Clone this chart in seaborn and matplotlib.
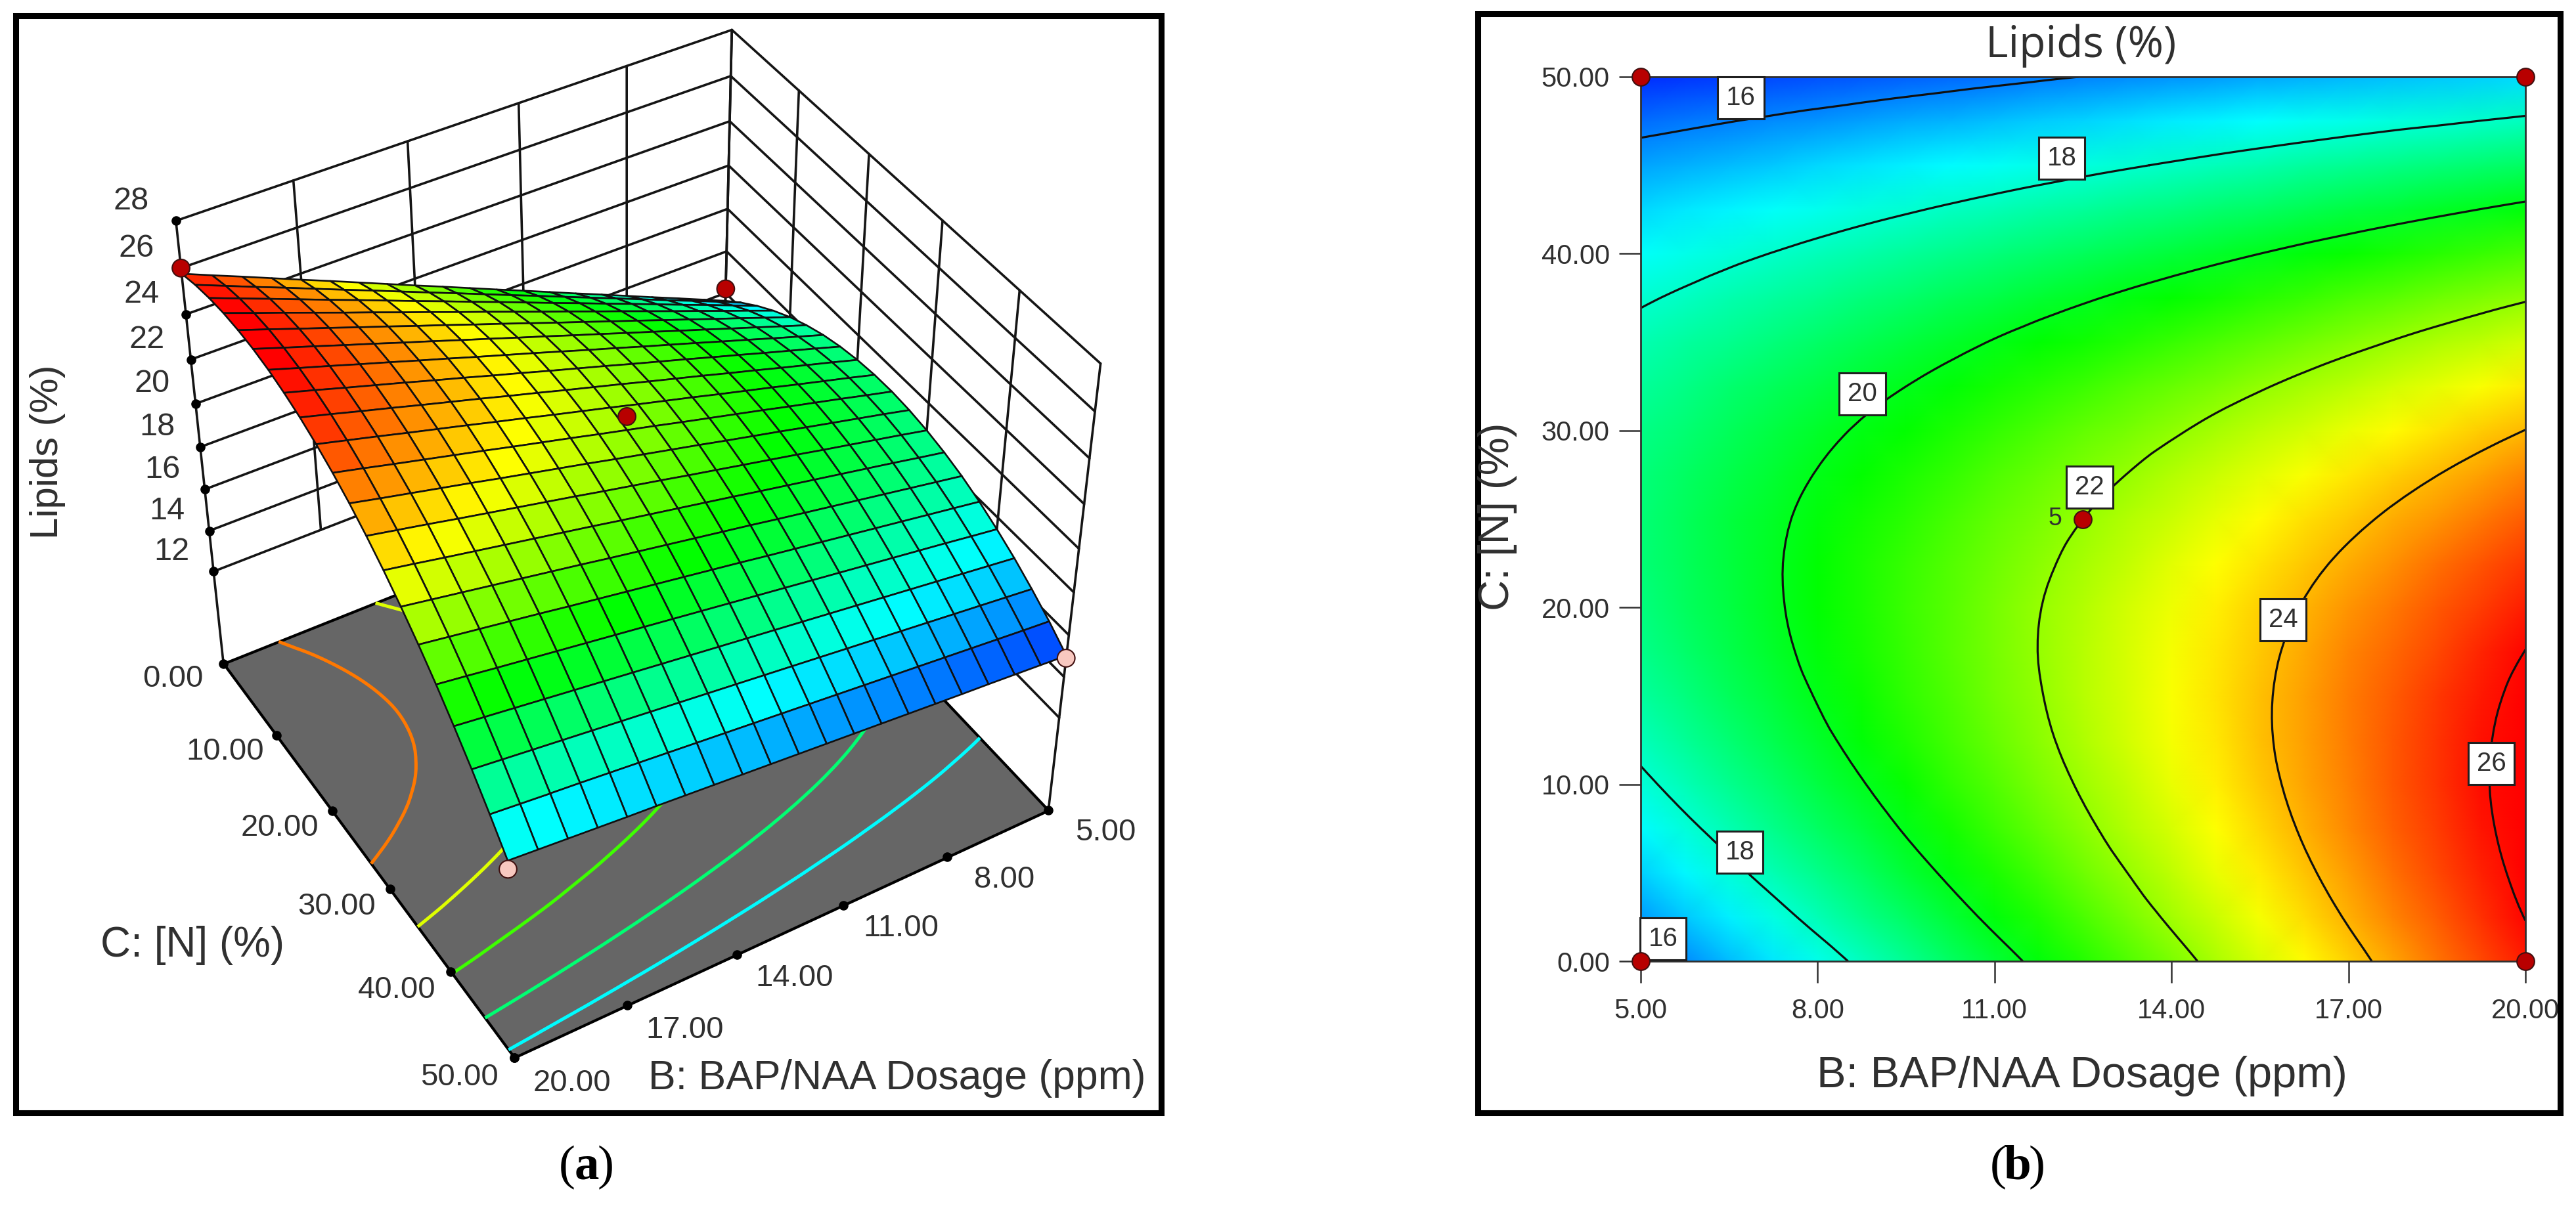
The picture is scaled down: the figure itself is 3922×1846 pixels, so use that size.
import numpy as np
import matplotlib
matplotlib.use("Agg")
import matplotlib.pyplot as plt
from matplotlib.patches import Rectangle
from matplotlib.tri import Triangulation, UniformTriRefiner, CubicTriInterpolator
from mpl_toolkits.mplot3d.art3d import Poly3DCollection
from mpl_toolkits.mplot3d import proj3d
import seaborn as sns

# ---------- data ----------
B_grid = [5.00, 5.75, 6.50, 7.25, 8.00, 8.75, 9.50, 10.25, 11.00, 11.75, 12.50,
          13.25, 14.00, 14.75, 15.50, 16.25, 17.00, 17.75, 18.50, 19.25, 20.00]
C_grid = [0.0, 2.5, 5.0, 7.5, 10.0, 12.5, 15.0, 17.5, 20.0, 22.5, 25.0,
          27.5, 30.0, 32.5, 35.0, 37.5, 40.0, 42.5, 45.0, 47.5, 50.0]
Lipids = [
 [15.62,16.13,16.64,17.14,17.65,18.16,18.66,19.17,19.68,20.18,20.69,21.20,21.70,22.21,22.72,23.23,23.73,24.24,24.75,25.25,25.76],
 [16.28,16.77,17.26,17.74,18.23,18.72,19.20,19.69,20.18,20.66,21.15,21.64,22.12,22.61,23.10,23.58,24.07,24.56,25.04,25.53,26.02],
 [16.87,17.34,17.81,18.27,18.74,19.21,19.67,20.14,20.60,21.07,21.54,22.00,22.47,22.93,23.40,23.87,24.33,24.80,25.27,25.73,26.20],
 [17.39,17.84,18.28,18.73,19.17,19.62,20.07,20.51,20.96,21.40,21.85,22.30,22.74,23.19,23.63,24.08,24.52,24.97,25.42,25.86,26.31],
 [17.84,18.26,18.69,19.11,19.54,19.96,20.39,20.81,21.24,21.66,22.09,22.52,22.94,23.37,23.79,24.22,24.64,25.07,25.49,25.92,26.34],
 [18.21,18.61,19.02,19.42,19.83,20.23,20.64,21.04,21.45,21.85,22.26,22.66,23.07,23.47,23.88,24.28,24.69,25.09,25.50,25.90,26.31],
 [18.51,18.89,19.27,19.66,20.04,20.43,20.81,21.19,21.58,21.96,22.35,22.74,23.12,23.50,23.89,24.27,24.66,25.04,25.43,25.81,26.20],
 [18.73,19.10,19.46,19.82,20.19,20.55,20.92,21.28,21.64,22.01,22.37,22.73,23.10,23.46,23.83,24.19,24.56,24.92,25.28,25.65,26.01],
 [18.88,19.23,19.57,19.91,20.26,20.60,20.95,21.29,21.63,21.98,22.32,22.66,23.01,23.35,23.70,24.04,24.38,24.73,25.07,25.42,25.76],
 [18.96,19.29,19.61,19.93,20.26,20.58,20.90,21.23,21.55,21.87,22.20,22.52,22.84,23.17,23.49,23.82,24.14,24.46,24.79,25.11,25.43],
 [18.97,19.27,19.58,19.88,20.18,20.49,20.79,21.09,21.39,21.70,22.00,22.30,22.61,22.91,23.21,23.52,23.82,24.12,24.42,24.73,25.03],
 [18.90,19.19,19.47,19.75,20.03,20.32,20.60,20.88,21.17,21.45,21.73,22.01,22.30,22.58,22.86,23.14,23.43,23.71,23.99,24.27,24.56],
 [18.76,19.03,19.29,19.55,19.81,20.08,20.34,20.60,20.86,21.12,21.39,21.65,21.91,22.18,22.44,22.70,22.96,23.22,23.49,23.75,24.01],
 [18.55,18.79,19.04,19.28,19.52,19.76,20.00,20.24,20.49,20.73,20.97,21.21,21.45,21.70,21.94,22.18,22.42,22.66,22.90,23.15,23.39],
 [18.27,18.49,18.71,18.93,19.15,19.37,19.59,19.81,20.04,20.26,20.48,20.70,20.92,21.14,21.37,21.59,21.81,22.03,22.25,22.47,22.69],
 [17.91,18.11,18.31,18.51,18.71,18.91,19.11,19.31,19.51,19.72,19.92,20.12,20.32,20.52,20.72,20.92,21.13,21.33,21.53,21.73,21.93],
 [17.47,17.65,17.84,18.02,18.20,18.38,18.56,18.74,18.92,19.10,19.28,19.46,19.64,19.82,20.00,20.18,20.36,20.54,20.72,20.91,21.09],
 [16.97,17.13,17.29,17.45,17.61,17.77,17.93,18.09,18.25,18.41,18.57,18.73,18.89,19.05,19.21,19.37,19.53,19.69,19.85,20.01,20.17],
 [16.39,16.53,16.67,16.81,16.95,17.09,17.23,17.37,17.51,17.65,17.79,17.93,18.07,18.21,18.35,18.49,18.63,18.77,18.91,19.05,19.19],
 [15.75,15.86,15.98,16.10,16.22,16.34,16.46,16.58,16.70,16.82,16.94,17.06,17.18,17.30,17.42,17.54,17.66,17.78,17.89,18.01,18.13],
 [15.02,15.12,15.22,15.32,15.41,15.51,15.61,15.71,15.81,15.91,16.01,16.11,16.21,16.31,16.41,16.51,16.60,16.70,16.80,16.90,17.00],
]
B_ticks = [5, 8, 11, 14, 17, 20]
C_ticks = [0, 10, 20, 30, 40, 50]
Z_ticks = [12, 14, 16, 18, 20, 22, 24, 26, 28]
Z_floor = 7.3
Levels = [16, 18, 20, 22, 24, 26]
Floor_levels = [17.4, 19.0, 21.0, 22.8, 24.7]

point_B = [20, 5, 12.5, 20, 5]
point_C = [0, 0, 25, 50, 50]
point_Z = [26.0, 16.2, 22.6, 16.6, 14.9]
point_color = ["#b80000", "#b80000", "#b80000", "#f8c8c0", "#f8c8c0"]

label_vals = ["16", "18", "20", "22", "24", "26", "18", "16"]
label_B = [6.70, 12.14, 8.76, 12.61, 15.89, 19.42, 6.68, 5.38]
label_C = [48.8, 45.4, 32.07, 26.8, 19.3, 11.17, 6.16, 1.26]

# ---------- style ----------
sns.set_theme(style="white")
plt.rcParams["font.family"] = ["Liberation Sans", "DejaVu Sans"]
W, H = 3923, 1846
fig = plt.figure(figsize=(W / 100, H / 100), dpi=100, facecolor="white")
cmap = sns.blend_palette(["#0000ff", "#00ffff", "#00ff00", "#ffff00", "#ff0000"], n_colors=256, as_cmap=True)
VMIN, VMAX = 14.5, 26.1
TXT = "#303030"

def fx(x): return x / W
def fy(y): return 1 - y / H

X, Y = np.meshgrid(B_grid, C_grid)
Z = np.array(Lipids)

# Contour drawing only: the library's refiner rounds the contour paths between the grid nodes
tri = Triangulation(X.ravel(), Y.ravel())
tri_fine, z_fine = UniformTriRefiner(tri).refine_field(Z.ravel(), CubicTriInterpolator(tri, Z.ravel(), kind="geom"), subdiv=2)

# frames
for (x0, y0, x1, y1) in [(24, 24, 1768, 1695), (2250, 21, 3898, 1695)]:
    fig.add_artist(Rectangle((fx(x0), fy(y1)), (x1 - x0) / W, (y1 - y0) / H, transform=fig.transFigure,
                             fill=False, ec="black", lw=6.5))

# ---------- panel (a) ----------
side = 1594
ax3 = fig.add_axes([fx(136), fy(25 + side), side / W, side / H], projection="3d", computed_zorder=False)
ax3.patch.set_alpha(0)
ax3.set_proj_type("persp", focal_length=0.62)
ax3.view_init(elev=42, azim=59)
ax3.set_box_aspect((1, 1, 0.94))
ax3.set_xlim(5, 20); ax3.set_ylim(0, 50); ax3.set_zlim(Z_floor, 28)
ax3.set_axis_off()
wall = dict(color="#151515", lw=2.6, zorder=1)
for z in Z_ticks:
    ax3.plot([20, 5], [0, 0], [z, z], **wall)
    ax3.plot([5, 5], [0, 50], [z, z], **wall)
for b in B_ticks:
    ax3.plot([b, b], [0, 0], [Z_floor if b in (20, 5) else 12, 28], **wall)
for c in C_ticks:
    ax3.plot([5, 5], [c, c], [Z_floor if c in (0, 50) else 12, 28], **wall)
floor_xyz = [[(20, 0, Z_floor), (20, 50, Z_floor), (5, 50, Z_floor), (5, 0, Z_floor)]]
floor = Poly3DCollection(floor_xyz, facecolor="#666666", edgecolor="black", linewidth=3, zorder=2)
ax3.add_collection3d(floor)
ax3.tricontour(tri_fine, z_fine, levels=Floor_levels, zdir="z", offset=Z_floor, cmap=cmap, vmin=VMIN, vmax=VMAX,
               linewidths=3.6, zorder=3)
ax3.plot_surface(X, Y, Z, rstride=1, cstride=1, cmap=cmap, vmin=VMIN, vmax=VMAX, shade=False,
                 edgecolor="#101010", linewidth=1.9, antialiased=True, zorder=4)
ax3.scatter(point_B, point_C, point_Z, s=370, c=point_color, edgecolors="#401010", linewidths=1.5,
            depthshade=False, zorder=6)
ax3.scatter([20] * len(Z_ticks), [0] * len(Z_ticks), Z_ticks, s=90, c="black", depthshade=False, zorder=5)
ax3.scatter([20] * len(C_ticks), C_ticks, [Z_floor] * len(C_ticks), s=90, c="black", depthshade=False, zorder=5)
ax3.scatter(B_ticks, [50] * len(B_ticks), [Z_floor] * len(B_ticks), s=90, c="black", depthshade=False, zorder=5)

M3 = ax3.get_proj()
def label3d(b, c, z, s, size):
    x2, y2, _ = proj3d.proj_transform(b, c, z, M3)
    ax3.text2D(x2, y2, s, transform=ax3.transData, fontsize=size, color=TXT, ha="center", va="center", zorder=7)

for z in Z_ticks:
    label3d(20.57, -4.0, z, str(z), 35)
for c in C_ticks:
    label3d(21.35, c - 0.5, Z_floor, f"{c:.2f}", 34)
for b in B_ticks:
    label3d(b - 0.75, 54.37, Z_floor, f"{b:.2f}", 34)
fig.text(fx(73), fy(688), "Lipids (%)", fontsize=43, rotation=90, ha="center", va="center", color=TXT)
fig.text(fx(293), fy(1440), "C: [N] (%)", fontsize=46, ha="center", va="center", color=TXT)
fig.text(fx(1366), fy(1642), "B: BAP/NAA Dosage (ppm)", fontsize=45, ha="center", va="center", color=TXT)

# ---------- panel (b) ----------
ax = fig.add_axes([fx(2498), fy(1464), 1347 / W, 1347 / H])
ax.pcolormesh(X, Y, Z, cmap=cmap, vmin=VMIN, vmax=VMAX, shading="gouraud", zorder=1)
ax.tricontour(tri_fine, z_fine, levels=Levels, colors="#101010", linewidths=2.3, zorder=2)
ax.set_xlim(5, 20); ax.set_ylim(0, 50)
ax.set_xticks(B_ticks); ax.set_xticklabels([f"{b:.2f}" for b in B_ticks])
ax.set_yticks(C_ticks); ax.set_yticklabels([f"{c:.2f}" for c in C_ticks])
ax.tick_params(axis="both", length=24, width=1.8, color="#303030", labelsize=30, labelcolor=TXT, direction="out",
               bottom=True, left=True)
ax.tick_params(axis="x", pad=16)
ax.tick_params(axis="y", pad=10)
for s in ax.spines.values():
    s.set_color("#303030"); s.set_linewidth(2)
for t, b, c in zip(label_vals, label_B, label_C):
    ax.text(b, c, t, fontsize=29, ha="center", va="center", color=TXT, zorder=4,
            bbox=dict(boxstyle="square,pad=0.32", fc="white", ec="#202020", lw=2.2))
corner_B = [5, 20, 5, 20, 12.5]
corner_C = [0, 0, 50, 50, 25]
sns.scatterplot(x=corner_B, y=corner_C, ax=ax, s=370, color="#b80000", edgecolor="#401010", linewidth=1.5,
                clip_on=False, zorder=5, legend=False)
ax.text(12.5, 25, "5   ", fontsize=27, ha="right", va="center", color=TXT, zorder=5)
ax.set_xlabel(""); ax.set_ylabel("")
fig.text(fx(3170), fy(1639), "B: BAP/NAA Dosage (ppm)", fontsize=48, ha="center", va="center", color=TXT)
fig.text(fx(2280), fy(787), "C: [N] (%)", fontsize=47, rotation=90, ha="center", va="center", color=TXT)
fig.text(fx(3168), fy(70), "Lipids (%)", fontsize=47.5, ha="center", va="center", color=TXT, family="Open Sans")

# captions
for cx, letter in [(893, "a"), (3072, "b")]:
    fig.text(fx(cx), fy(1778), letter, fontsize=54, family="Liberation Serif", weight="bold", ha="center", va="center", color="black")
    fig.text(fx(cx - 17), fy(1778), "(", fontsize=54, family="Liberation Serif", ha="right", va="center", color="black")
    fig.text(fx(cx + 17), fy(1778), ")", fontsize=54, family="Liberation Serif", ha="left", va="center", color="black")

fig.savefig("out.png", dpi=100, facecolor="white")
